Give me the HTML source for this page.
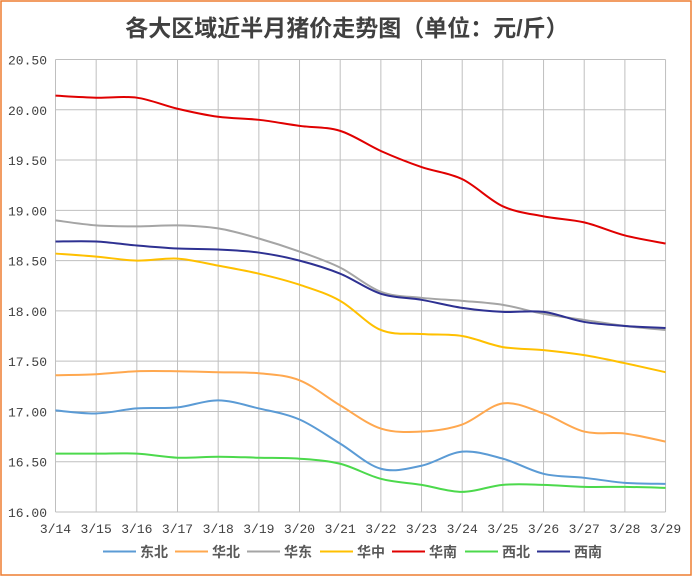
<!DOCTYPE html>
<html><head><meta charset="utf-8"><style>
html,body{margin:0;padding:0;background:#fff;}
svg{display:block}
</style></head><body>
<svg id="s" width="693" height="577" xmlns="http://www.w3.org/2000/svg" font-family="'Liberation Sans','Noto Sans CJK SC',sans-serif">
<rect x="1" y="1" width="690" height="574" fill="#fff" stroke="#ED7D31" stroke-width="1.5"/>
<text x="347" y="36" text-anchor="middle" font-size="23" font-weight="bold" fill="#404040">各大区域近半月猪价走势图（单位：元/斤）</text>
<g id="grid" stroke="#bfbfbf" stroke-width="1" fill="none"></g>
<g id="lab" font-family="'Liberation Mono',monospace" font-size="13" fill="#404040"></g>
<g id="lines" fill="none" stroke-width="2"></g>
<g id="leg" font-size="14" font-weight="bold" fill="#595959"></g>
</svg>
<script>
var NS="http://www.w3.org/2000/svg";
function el(p,t,a,txt){var e=document.createElementNS(NS,t);for(var k in a)e.setAttribute(k,a[k]);if(txt)e.textContent=txt;p.appendChild(e);return e;}
var x0=55.5,dx=40.67,y0=512,ky=100.56;
function X(i){return x0+i*dx;}function Y(v){return y0-(v-16)*ky;}
var g=document.getElementById('grid'),lab=document.getElementById('lab');
for(var i=0;i<=15;i++){el(g,'line',{x1:X(i),x2:X(i),y1:Y(20.5),y2:Y(16)});
 el(lab,'text',{x:X(i),y:533,'text-anchor':'middle'},'3/'+(14+i));}
for(var j=0;j<=9;j++){var v=16+j*0.5;el(g,'line',{x1:x0,x2:X(15),y1:Y(v),y2:Y(v)});
 el(lab,'text',{x:47,y:Y(v)+5,'text-anchor':'end'},v.toFixed(2));}
var S=[
["东北","#5B9BD5",[17.01,16.98,17.03,17.04,17.11,17.03,16.92,16.68,16.43,16.46,16.60,16.53,16.38,16.34,16.29,16.28]],
["华北","#FFA84F",[17.36,17.37,17.40,17.40,17.39,17.38,17.31,17.06,16.83,16.80,16.87,17.08,16.98,16.80,16.78,16.70]],
["华东","#A5A5A5",[18.90,18.85,18.84,18.85,18.82,18.72,18.59,18.43,18.19,18.13,18.10,18.06,17.97,17.91,17.85,17.81]],
["华中","#FFC000",[18.57,18.54,18.50,18.52,18.45,18.37,18.26,18.10,17.81,17.77,17.75,17.64,17.61,17.56,17.48,17.39]],
["华南","#E00000",[20.14,20.12,20.12,20.01,19.93,19.90,19.84,19.79,19.59,19.43,19.31,19.04,18.94,18.88,18.75,18.67]],
["西北","#4CD94C",[16.58,16.58,16.58,16.54,16.55,16.54,16.53,16.48,16.33,16.27,16.20,16.27,16.27,16.25,16.25,16.24]],
["西南","#2E3192",[18.69,18.69,18.65,18.62,18.61,18.58,18.50,18.37,18.17,18.11,18.03,17.99,17.99,17.89,17.85,17.83]]];
var L=document.getElementById('lines'),G=document.getElementById('leg');
var lx=[103,175,247,320,392,465,537];
S.forEach(function(s,k){var p=s[2].map(function(v,i){return [X(i),Y(v)];});
 var d="M"+p[0][0]+","+p[0][1];
 for(var i=0;i<p.length-1;i++){var a=p[Math.max(i-1,0)],b=p[i],c=p[i+1],e=p[Math.min(i+2,p.length-1)];
  var t=1/6;d+=" C"+(b[0]+(c[0]-a[0])*t)+","+(b[1]+(c[1]-a[1])*t)+" "+(c[0]-(e[0]-b[0])*t)+","+(c[1]-(e[1]-b[1])*t)+" "+c[0]+","+c[1];}
 el(L,'path',{d:d,stroke:s[1]});
 el(G,'line',{x1:lx[k],x2:lx[k]+33,y1:551.5,y2:551.5,stroke:s[1],'stroke-width':2});
 el(G,'text',{x:lx[k]+37,y:557},s[0]);});
</script>
</body></html>
